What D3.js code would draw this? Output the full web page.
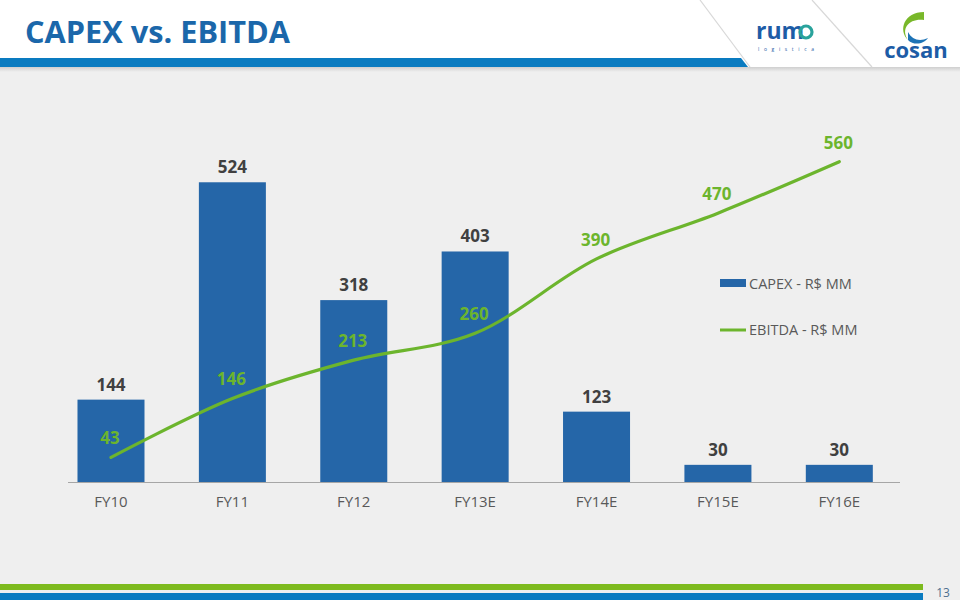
<!DOCTYPE html>
<html><head><meta charset="utf-8">
<script src="https://cdn.jsdelivr.net/npm/d3@7"></script>
<style>html,body{margin:0;padding:0;background:#efefef;}svg{display:block;}</style>
</head><body>
<script>
const categories = ["FY10","FY11","FY12","FY13E","FY14E","FY15E","FY16E"];
const capex = [144,524,318,403,123,30,30];
const ebitda = [43,146,213,260,390,470,560];
const seriesNames = ["CAPEX - R$ MM","EBITDA - R$ MM"];
const titleText = "CAPEX vs. EBITDA";
const pageNumber = "13";

const W = 960, H = 600;
const blue = "#2566a8", green = "#6cb52d";
const svg = d3.select("body").append("svg").attr("width", W).attr("height", H);

// background
svg.append("rect").attr("width", W).attr("height", H).attr("fill", "#efefef");

// header
const defs = svg.append("defs");
const sh = defs.append("linearGradient").attr("id","sh").attr("x1",0).attr("y1",0).attr("x2",0).attr("y2",1);
sh.append("stop").attr("offset",0).attr("stop-color","#c8c8c8");
sh.append("stop").attr("offset",1).attr("stop-color","#efefef");
svg.append("rect").attr("x",0).attr("y",66).attr("width",W).attr("height",6).attr("fill","url(#sh)");
svg.append("rect").attr("x",0).attr("y",0).attr("width",W).attr("height",67).attr("fill","#ffffff");
svg.append("path").attr("d","M0,58 L741,58 L748,67 L0,67 Z").attr("fill","#0a7bc0");
svg.append("line").attr("x1",700).attr("y1",0).attr("x2",750).attr("y2",67).attr("stroke","#d8d8d8").attr("stroke-width",1.2);
svg.append("line").attr("x1",812).attr("y1",0).attr("x2",872).attr("y2",67).attr("stroke","#d8d8d8").attr("stroke-width",1.2);

svg.append("text").attr("x",25).attr("y",43).text(titleText)
  .attr("font-family","'Open Sans', sans-serif").attr("font-weight",700).attr("font-size",31)
  .attr("fill","#1b67aa").attr("textLength",265).attr("lengthAdjust","spacingAndGlyphs");

// rumo logo
svg.append("text").attr("x",756).attr("y",39).text("rum").attr("font-family","'Open Sans', sans-serif")
  .attr("font-weight",700).attr("font-size",23).attr("fill","#1d5ca6");
svg.append("circle").attr("cx",806).attr("cy",32).attr("r",6).attr("fill","none").attr("stroke","#2aa39c").attr("stroke-width",3.2);
svg.append("text").attr("x",758).attr("y",51).text("l o g i s t i c a")
  .attr("font-family","'Open Sans', sans-serif").attr("font-size",5).attr("fill","#1d5ca6")
  .attr("textLength",56).attr("lengthAdjust","spacing");

// cosan logo
svg.append("path").attr("d","M924,12 C904,12 898,30 908,40 C900,28 910,18 924,20 Z").attr("fill","#79b82a");
svg.append("path").attr("d","M908,40 C914,46 924,44 928,38 C920,42 912,40 908,32 Z").attr("fill","#1d73b6");
svg.append("text").attr("x",916).attr("y",58).attr("text-anchor","middle").text("cosan")
  .attr("font-family","'Open Sans', sans-serif").attr("font-weight",700).attr("font-size",22).attr("fill","#1d5ca6");

// footer
svg.append("rect").attr("x",0).attr("y",584).attr("width",923).attr("height",6).attr("fill","#7dba1e");
svg.append("rect").attr("x",0).attr("y",593).attr("width",923).attr("height",7).attr("fill","#0a7bc0");
svg.append("text").attr("x",943).attr("y",597).attr("text-anchor","middle").text(pageNumber)
  .attr("font-family","'Open Sans', sans-serif").attr("font-size",12).attr("fill","#4d6f8f");

// scales
const baseY = 482;
const x = d3.scaleBand().domain(categories).range([50.3, 900]).paddingInner(0.448).paddingOuter(0.224);
const y = d3.scaleLinear().domain([0, 560]).range([baseY, baseY - 560*0.572]);

// axis
const ax = svg.append("g").attr("transform",`translate(0,${baseY})`)
  .call(d3.axisBottom(x).tickSize(0).tickPadding(14));
ax.select(".domain").attr("d","M68,0.5H900").attr("stroke","#a6a6a6").attr("stroke-width",1);
ax.selectAll("text").attr("font-family","'Open Sans', sans-serif").attr("font-size",15).attr("fill","#595959");

// bars
svg.append("g").selectAll("rect").data(capex).join("rect")
  .attr("x",(d,i)=>x(categories[i])).attr("width",x.bandwidth())
  .attr("y",d=>y(d)).attr("height",d=>baseY-y(d)).attr("fill",blue);

svg.append("g").selectAll("text").data(capex).join("text")
  .attr("x",(d,i)=>x(categories[i])+x.bandwidth()/2).attr("y",d=>y(d)-9)
  .attr("text-anchor","middle").text(d=>d)
  .attr("font-family","'Open Sans', sans-serif").attr("font-weight",700).attr("font-size",17).attr("fill","#404040");

// line
const line = d3.line().x((d,i)=>x(categories[i])+x.bandwidth()/2).y(d=>y(d)).curve(d3.curveCatmullRom.alpha(0.5));
svg.append("path").datum(ebitda).attr("d",line).attr("fill","none").attr("stroke",green).attr("stroke-width",3.2).attr("stroke-linecap","round");

svg.append("g").selectAll("text").data(ebitda).join("text")
  .attr("x",(d,i)=>x(categories[i])+x.bandwidth()/2 - 1).attr("y",d=>y(d)-13)
  .attr("text-anchor","middle").text(d=>d)
  .attr("font-family","'Open Sans', sans-serif").attr("font-weight",700).attr("font-size",17).attr("fill",green);

// legend
const lg = svg.append("g");
lg.append("rect").attr("x",720).attr("y",279).attr("width",26).attr("height",8).attr("fill",blue);
lg.append("text").attr("x",749).attr("y",289).text(seriesNames[0])
  .attr("font-family","'Open Sans', sans-serif").attr("font-size",14.5).attr("fill","#595959");
lg.append("line").attr("x1",720).attr("x2",746).attr("y1",330).attr("y2",330).attr("stroke",green).attr("stroke-width",3);
lg.append("text").attr("x",749).attr("y",335).text(seriesNames[1])
  .attr("font-family","'Open Sans', sans-serif").attr("font-size",14.5).attr("fill","#595959");
</script>
</body></html>
